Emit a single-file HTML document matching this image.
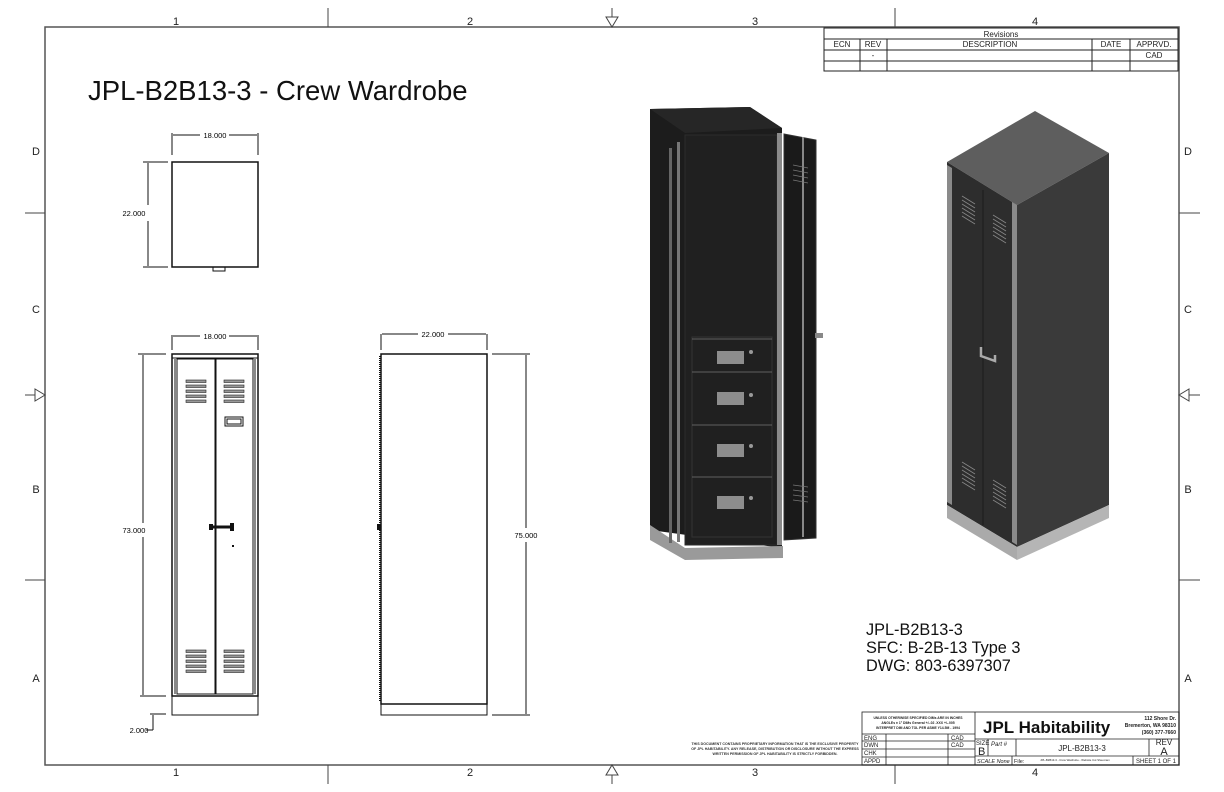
<!DOCTYPE html>
<html><head><meta charset="utf-8"><style>
html,body{margin:0;padding:0;background:#fff;}
svg{display:block;font-family:"Liberation Sans",sans-serif;}
</style></head><body>
<svg width="1224" height="792" viewBox="0 0 1224 792" xmlns="http://www.w3.org/2000/svg">
<rect width="1224" height="792" fill="#fff"/>
<rect x="45" y="27" width="1134" height="738" fill="none" stroke="#555" stroke-width="1.5"/>
<g stroke="#444" stroke-width="1">
<line x1="328" y1="8" x2="328" y2="27"/><line x1="895" y1="8" x2="895" y2="27"/>
<line x1="328" y1="765" x2="328" y2="784"/><line x1="895" y1="765" x2="895" y2="784"/>
<line x1="612" y1="8" x2="612" y2="27"/><line x1="612" y1="765" x2="612" y2="784"/>
<line x1="25" y1="213" x2="45" y2="213"/><line x1="25" y1="580" x2="45" y2="580"/>
<line x1="1179" y1="213" x2="1200" y2="213"/><line x1="1179" y1="580" x2="1200" y2="580"/>
<line x1="25" y1="395" x2="45" y2="395"/><line x1="1179" y1="395" x2="1200" y2="395"/>
</g>
<g fill="#fff" stroke="#444">
<polygon points="606,17 618,17 612,27"/><polygon points="606,775 618,775 612,765"/>
<polygon points="35,389 35,401 45,395"/><polygon points="1189,389 1189,401 1179,395"/>
</g>
<g font-size="11" fill="#222" text-anchor="middle">
<text x="176" y="25">1</text><text x="470" y="25">2</text><text x="755" y="25">3</text><text x="1035" y="25">4</text>
<text x="176" y="776">1</text><text x="470" y="776">2</text><text x="755" y="776">3</text><text x="1035" y="776">4</text>
<text x="36" y="155">D</text><text x="36" y="313">C</text><text x="36" y="493">B</text><text x="36" y="682">A</text>
<text x="1188" y="155">D</text><text x="1188" y="313">C</text><text x="1188" y="493">B</text><text x="1188" y="682">A</text>
</g>
<g stroke="#222" stroke-width="1" fill="none">
<rect x="824" y="28" width="354" height="43"/>
<line x1="824" y1="39" x2="1178" y2="39"/><line x1="824" y1="50" x2="1178" y2="50"/><line x1="824" y1="61" x2="1178" y2="61"/>
<line x1="860" y1="39" x2="860" y2="71"/><line x1="887" y1="39" x2="887" y2="71"/><line x1="1092" y1="39" x2="1092" y2="71"/><line x1="1130" y1="39" x2="1130" y2="71"/>
</g>
<g font-size="8" fill="#222" text-anchor="middle">
<text x="1001" y="37">Revisions</text>
<text x="842" y="47">ECN</text><text x="873" y="47">REV</text><text x="990" y="47">DESCRIPTION</text><text x="1111" y="47">DATE</text><text x="1154" y="47">APPRVD.</text>
<text x="873" y="58">-</text><text x="1154" y="58">CAD</text>
</g>
<text x="88" y="100" font-size="27.5" fill="#111">JPL-B2B13-3 - Crew Wardrobe</text>
<g stroke="#111" fill="none" stroke-width="1">
<rect x="172" y="162" width="86" height="105" stroke-width="1.5"/>
<path d="M213 267 v4 h12 v-4"/>
<line x1="172" y1="133" x2="172" y2="155"/><line x1="258" y1="133" x2="258" y2="155"/>
<line x1="173" y1="135" x2="200" y2="135"/><line x1="229" y1="135" x2="257" y2="135"/>
<line x1="143" y1="162" x2="168" y2="162"/><line x1="143" y1="267" x2="168" y2="267"/>
<line x1="148" y1="163" x2="148" y2="205"/><line x1="148" y1="221" x2="148" y2="266"/>
</g>
<text x="215" y="138" font-size="7.5" text-anchor="middle">18.000</text>
<text x="134" y="216" font-size="7.5" text-anchor="middle">22.000</text>
<g stroke="#111" fill="none" stroke-width="1">
<rect x="172" y="354" width="86" height="342" stroke-width="1.5"/>
<rect x="172" y="696" width="86" height="19"/>
<line x1="172" y1="358" x2="258" y2="358"/>
<rect x="177" y="359" width="38" height="335"/>
<rect x="216" y="359" width="37" height="335"/>
<line x1="175" y1="359" x2="175" y2="694"/><line x1="255" y1="359" x2="255" y2="694"/>
<rect x="225" y="417" width="18" height="9"/><rect x="227" y="419" width="14" height="5"/>
<line x1="210" y1="527" x2="232" y2="527" stroke-width="3"/>
<line x1="172" y1="335" x2="172" y2="350"/><line x1="258" y1="335" x2="258" y2="350"/>
<line x1="173" y1="336" x2="200" y2="336"/><line x1="229" y1="336" x2="257" y2="336"/>
<line x1="138" y1="354" x2="166" y2="354"/><line x1="140" y1="696" x2="166" y2="696"/>
<line x1="143" y1="355" x2="143" y2="523"/><line x1="143" y1="537" x2="143" y2="695"/>
<line x1="150" y1="714" x2="166" y2="714"/><line x1="153" y1="715" x2="153" y2="730"/><line x1="146" y1="730" x2="153" y2="730"/>
</g>
<g fill="#999" stroke="#222" stroke-width="0.6">
<rect x="186" y="380" width="20" height="2.5"/><rect x="186" y="385" width="20" height="2.5"/><rect x="186" y="390" width="20" height="2.5"/><rect x="186" y="395" width="20" height="2.5"/><rect x="186" y="400" width="20" height="2.5"/>
<rect x="224" y="380" width="20" height="2.5"/><rect x="224" y="385" width="20" height="2.5"/><rect x="224" y="390" width="20" height="2.5"/><rect x="224" y="395" width="20" height="2.5"/><rect x="224" y="400" width="20" height="2.5"/>
<rect x="186" y="650" width="20" height="2.5"/><rect x="186" y="655" width="20" height="2.5"/><rect x="186" y="660" width="20" height="2.5"/><rect x="186" y="665" width="20" height="2.5"/><rect x="186" y="670" width="20" height="2.5"/>
<rect x="224" y="650" width="20" height="2.5"/><rect x="224" y="655" width="20" height="2.5"/><rect x="224" y="660" width="20" height="2.5"/><rect x="224" y="665" width="20" height="2.5"/><rect x="224" y="670" width="20" height="2.5"/>
</g>
<rect x="209" y="524" width="4" height="6" fill="#111"/><rect x="230" y="523" width="4" height="8" fill="#111"/>
<rect x="232" y="545" width="2" height="2" fill="#111"/>
<text x="215" y="339" font-size="7.5" text-anchor="middle">18.000</text>
<text x="134" y="533" font-size="7.5" text-anchor="middle">73.000</text>
<text x="139" y="733" font-size="7.5" text-anchor="middle">2.000</text>
<g stroke="#111" fill="none" stroke-width="1">
<rect x="381" y="354" width="106" height="350" stroke-width="1.5"/>
<rect x="381" y="704" width="106" height="11"/>
<line x1="381" y1="334" x2="381" y2="350"/><line x1="487" y1="334" x2="487" y2="350"/>
<line x1="382" y1="334" x2="418" y2="334"/><line x1="448" y1="334" x2="486" y2="334"/>
<line x1="492" y1="354" x2="530" y2="354"/><line x1="492" y1="715" x2="530" y2="715"/>
<line x1="526" y1="355" x2="526" y2="528"/><line x1="526" y1="542" x2="526" y2="714"/>
</g>
<line x1="380" y1="356" x2="380" y2="702" stroke="#111" stroke-width="2" stroke-dasharray="1,1"/>
<rect x="377" y="524" width="4" height="6" fill="#111"/>
<text x="433" y="337" font-size="7.5" text-anchor="middle">22.000</text>
<text x="526" y="538" font-size="7.5" text-anchor="middle">75.000</text>
<!-- left 3D -->
<polygon points="650,109 750,107 782,128 782,548 650,530" fill="#1c1c1c"/>
<polygon points="650,109 750,107 782,128 685,133" fill="#262626"/>
<polygon points="650,525 685,548 783,546 783,558 685,560 650,540" fill="#9a9a9a"/>
<rect x="685" y="135" width="92" height="410" fill="#202020" stroke="#2c2c2c"/>
<rect x="692" y="337" width="80" height="200" fill="none" stroke="#333"/>
<rect x="677" y="142" width="3" height="400" fill="#777"/><rect x="669" y="148" width="3" height="395" fill="#666"/>
<rect x="777" y="133" width="5" height="412" fill="#8a8a8a"/>
<polygon points="784,134 816,140 816,538 784,540" fill="#1a1a1a" stroke="#333"/>
<rect x="802" y="137" width="2" height="400" fill="#888"/>
<g stroke="#777" stroke-width="0.7">
<line x1="793" y1="165" x2="808" y2="168"/><line x1="793" y1="170" x2="808" y2="173"/><line x1="793" y1="175" x2="808" y2="178"/><line x1="793" y1="180" x2="808" y2="183"/>
<line x1="793" y1="485" x2="808" y2="487"/><line x1="793" y1="490" x2="808" y2="492"/><line x1="793" y1="495" x2="808" y2="497"/><line x1="793" y1="500" x2="808" y2="502"/>
<line x1="692" y1="339" x2="772" y2="339"/><line x1="692" y1="372" x2="772" y2="372"/><line x1="692" y1="425" x2="772" y2="425"/><line x1="692" y1="477" x2="772" y2="477"/>
</g>
<rect x="815" y="333" width="8" height="5" fill="#888"/>
<g fill="#8d8d8d"><rect x="717" y="351" width="27" height="13"/><rect x="717" y="392" width="27" height="13"/><rect x="717" y="444" width="27" height="13"/><rect x="717" y="496" width="27" height="13"/></g>
<g fill="#999"><circle cx="751" cy="352" r="2"/><circle cx="751" cy="395" r="2"/><circle cx="751" cy="446" r="2"/><circle cx="751" cy="498" r="2"/></g>
<!-- right 3D -->
<polygon points="947,162 1035,111 1109,153 1017,205" fill="#5e5e5e"/>
<polygon points="947,162 1017,205 1017,547 947,505" fill="#2d2d2d"/>
<polygon points="1017,205 1109,153 1109,505 1017,547" fill="#3a3a3a"/>
<polygon points="947,505 1017,547 1017,560 947,518" fill="#aaa"/>
<polygon points="1017,547 1109,505 1109,518 1017,560" fill="#b5b5b5"/>
<polygon points="947,165 952,168 952,505 947,502" fill="#8a8a8a"/>
<polygon points="1012,202 1017,205 1017,545 1012,542" fill="#8a8a8a"/>
<line x1="983" y1="190" x2="983" y2="525" stroke="#1c1c1c"/>
<g stroke="#888" stroke-width="0.8">
<line x1="962" y1="196" x2="975" y2="204"/><line x1="962" y1="200" x2="975" y2="208"/><line x1="962" y1="204" x2="975" y2="212"/><line x1="962" y1="208" x2="975" y2="216"/><line x1="962" y1="212" x2="975" y2="220"/><line x1="962" y1="216" x2="975" y2="224"/>
<line x1="993" y1="215" x2="1006" y2="223"/><line x1="993" y1="219" x2="1006" y2="227"/><line x1="993" y1="223" x2="1006" y2="231"/><line x1="993" y1="227" x2="1006" y2="235"/><line x1="993" y1="231" x2="1006" y2="239"/><line x1="993" y1="235" x2="1006" y2="243"/>
<line x1="962" y1="462" x2="975" y2="470"/><line x1="962" y1="466" x2="975" y2="474"/><line x1="962" y1="470" x2="975" y2="478"/><line x1="962" y1="474" x2="975" y2="482"/><line x1="962" y1="478" x2="975" y2="486"/><line x1="962" y1="482" x2="975" y2="490"/>
<line x1="993" y1="480" x2="1006" y2="488"/><line x1="993" y1="484" x2="1006" y2="492"/><line x1="993" y1="488" x2="1006" y2="496"/><line x1="993" y1="492" x2="1006" y2="500"/><line x1="993" y1="496" x2="1006" y2="504"/><line x1="993" y1="500" x2="1006" y2="508"/>
</g>
<path d="M981 347 v9 l14 5 v-6" stroke="#aaa" stroke-width="2.5" fill="none"/>
<g font-size="16.3" fill="#111">
<text x="866" y="635">JPL-B2B13-3</text><text x="866" y="653">SFC:  B-2B-13 Type 3</text><text x="866" y="671">DWG:  803-6397307</text>
</g>
<g font-size="3.6" fill="#333" text-anchor="middle" font-weight="bold">
<text x="775" y="745">THIS DOCUMENT CONTAINS PROPRIETARY INFORMATION THAT IS THE EXCLUSIVE PROPERTY</text>
<text x="775" y="750">OF JPL HABITABILITY.  ANY RELEASE, DISTRIBUTION OR DISCLOSURE WITHOUT THE EXPRESS</text>
<text x="775" y="755">WRITTEN PERMISSION OF JPL HABITABILITY IS STRICTLY FORBIDDEN.</text>
</g>
<g stroke="#222" stroke-width="0.8" fill="none">
<rect x="862" y="712" width="317" height="53"/>
<line x1="975" y1="712" x2="975" y2="765"/>
<line x1="862" y1="734" x2="975" y2="734"/><line x1="862" y1="741" x2="975" y2="741"/><line x1="862" y1="749" x2="975" y2="749"/><line x1="862" y1="757" x2="975" y2="757"/>
<line x1="886" y1="734" x2="886" y2="765"/><line x1="948" y1="734" x2="948" y2="765"/>
<line x1="975" y1="739" x2="1179" y2="739"/><line x1="975" y1="756" x2="1179" y2="756"/>
<line x1="988" y1="739" x2="988" y2="756"/><line x1="1016" y1="739" x2="1016" y2="756"/><line x1="1149" y1="739" x2="1149" y2="756"/>
<line x1="1012" y1="756" x2="1012" y2="765"/><line x1="1133" y1="756" x2="1133" y2="765"/>
</g>
<g font-size="3.4" fill="#222" text-anchor="middle" font-weight="bold">
<text x="918" y="719">UNLESS OTHERWISE SPECIFIED DIMs ARE IN INCHES</text>
<text x="918" y="724">ANGLEs ± 1°   DIMs General +/-.02   .XXX +/-.005</text>
<text x="918" y="729">INTERPRET DIM AND TOL PER ASME Y14.5M - 1994</text>
</g>
<g font-size="6" fill="#222">
<text x="864" y="740">ENG</text><text x="864" y="747">DWN</text><text x="864" y="755">CHK</text><text x="864" y="763">APPD</text>
<text x="951" y="740">CAD</text><text x="951" y="747">CAD</text>
</g>
<text x="983" y="733" font-size="17" font-weight="bold" fill="#111">JPL Habitability</text>
<g font-size="5" font-weight="bold" fill="#222" text-anchor="end">
<text x="1176" y="720">112  Shore Dr.</text><text x="1176" y="727">Bremerton, WA 98310</text><text x="1176" y="734">(360) 377-7660</text>
</g>
<text x="976" y="745" font-size="6" fill="#222">SIZE</text>
<text x="978" y="755" font-size="11" fill="#222">B</text>
<text x="991" y="746" font-size="6" fill="#222" font-style="italic">Part #</text>
<text x="1082" y="751" font-size="8" fill="#222" text-anchor="middle">JPL-B2B13-3</text>
<text x="1164" y="745" font-size="8" fill="#222" text-anchor="middle">REV</text>
<text x="1164" y="755" font-size="11" fill="#222" text-anchor="middle">A</text>
<text x="977" y="763" font-size="5.5" fill="#222" font-style="italic">SCALE  None</text>
<text x="1014" y="763" font-size="5.5" fill="#222">File:</text>
<text x="1075" y="761" font-size="2.8" fill="#222" text-anchor="middle">JPL-B2B13-3 - Crew Wardrobe - Website Cut Sheet.iam</text>
<text x="1156" y="763" font-size="6" fill="#222" text-anchor="middle">SHEET 1 OF 1</text>
</svg>
</body></html>
